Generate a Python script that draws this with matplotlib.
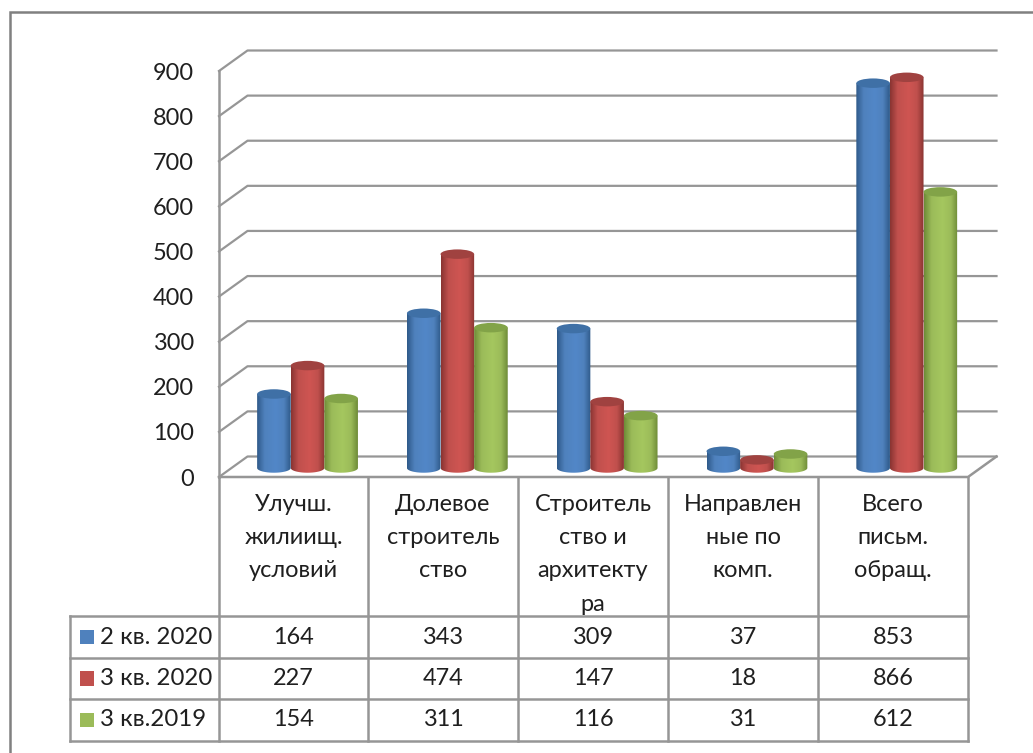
#!/usr/bin/env python3
import numpy as np
import matplotlib
matplotlib.use('Agg')
import matplotlib.pyplot as plt
from matplotlib.colors import LinearSegmentedColormap
from matplotlib.patches import Ellipse, Polygon

plt.rcParams['font.family'] = ['Lato', 'Open Sans', 'DejaVu Sans']

graphWidth = 1033
graphHeight = 753

categories = ['Улучш.\nжилиищ.\nусловий',
              'Долевое\nстроитель\nство',
              'Строитель\nство и\nархитекту\nра',
              'Направлен\nные по\nкомп.',
              'Всего\nписьм.\nобращ.']
series_names = ['2 кв. 2020', '3 кв. 2020', '3 кв.2019']
q2_2020 = [164, 343, 309, 37, 853]
q3_2020 = [227, 474, 147, 18, 866]
q3_2019 = [154, 311, 116, 31, 612]
series = [q2_2020, q3_2020, q3_2019]
y_ticks = [0, 100, 200, 300, 400, 500, 600, 700, 800, 900]

colors = ['#4f81bd', '#c0504d', '#9bbb59']
edge_colors = ['#2f5a8a', '#8a3432', '#6f8c38']
mid_colors = ['#5287c8', '#cf5552', '#a5c75f']
cap_colors = ['#3f70a6', '#a04240', '#82a348']
line_color = '#969696'
text_color = '#1f1f1f'
font_px = 23.5
font_pt = font_px * 72 / 100

# plot box in pixels
left, right, bottom, top = 219, 968, 477, 71
depth_x = 28.5 / ((right - left) / 5)
depth_y = 20.5 / ((bottom - top) / 900)

fig = plt.figure(figsize=(graphWidth / 100.0, graphHeight / 100.0), dpi=100)
bg = fig.add_axes([0, 0, 1, 1])
bg.set_xlim(0, graphWidth)
bg.set_ylim(graphHeight, 0)
bg.axis('off')

ax = fig.add_axes([left / graphWidth, 1 - bottom / graphHeight,
                   (right - left) / graphWidth, (bottom - top) / graphHeight])
ax.patch.set_visible(False)
for s in ax.spines.values():
    s.set_visible(False)

# walls and gridlines
for v in y_ticks:
    ax.plot([0, depth_x, 5 + depth_x], [v, v + depth_y, v + depth_y],
            color=line_color, lw=1.6, clip_on=False, zorder=1)
ax.plot([0, 0], [0, 900], color=line_color, lw=1.8, clip_on=False, zorder=1)
ax.plot([0, 5, 5 + depth_x], [0, 0, depth_y], color=line_color, lw=1.8, clip_on=False, zorder=1)

# cylinders
bar_w = 33.6 / ((right - left) / 5)
base = 20
cap_h = 21
t = np.linspace(0, np.pi, 40)
for i, vals in enumerate(series):
    cmap = LinearSegmentedColormap.from_list(
        'c%d' % i, [(0, edge_colors[i]), (0.22, colors[i]), (0.55, mid_colors[i]),
                    (0.8, colors[i]), (1, edge_colors[i])])
    for j, v in enumerate(vals):
        xc = j + 0.591 + (i - 1) * bar_w
        x_half = bar_w / 2
        top_v = base + v
        bx = xc + x_half * np.cos(t)
        by = base - cap_h / 2 * np.sin(t)
        outline = np.vstack([np.column_stack([bx, by]),
                             [[xc - x_half, top_v], [xc + x_half, top_v]]])
        im = ax.imshow(np.linspace(0, 1, 64).reshape(1, -1), cmap=cmap, aspect='auto',
                       extent=[xc - x_half, xc + x_half, base - cap_h / 2, top_v],
                       zorder=3 + i, clip_on=True)
        body = Polygon(outline, closed=True, fc='none', ec='none', transform=ax.transData)
        ax.add_patch(body)
        im.set_clip_path(body)
        ax.add_patch(Ellipse((xc, top_v), bar_w, cap_h, fc=cap_colors[i], ec='none',
                             zorder=3 + i, clip_on=False))

ax.set_xlim(0, 5)
ax.set_ylim(0, 900)
ax.set_xticks([])
ax.set_yticks(y_ticks)
ax.tick_params(axis='y', length=0, pad=18, labelsize=font_pt, labelcolor=text_color)

# data table under the plot
table_x = [70, 219, 368, 518, 668, 818, 968]
table_y = [616, 658, 699, 741]
for x in table_x[1:]:
    bg.plot([x, x], [477, table_y[-1]], color=line_color, lw=1.8, zorder=1)
bg.plot([70, 70], [table_y[0], table_y[-1]], color=line_color, lw=1.8, zorder=1)
for y in table_y:
    bg.plot([70, 968], [y, y], color=line_color, lw=1.8, zorder=1)

for j, c in enumerate(categories):
    cx = (table_x[j + 1] + table_x[j + 2]) / 2
    bg.text(cx, 494, c, ha='center', va='top', fontsize=font_pt, color=text_color, linespacing=1.72)

for i, vals in enumerate(series):
    cy = (table_y[i] + table_y[i + 1]) / 2
    bg.add_patch(plt.Rectangle((80, cy - 7.5), 14, 14.5, fc=colors[i], ec='none'))
    bg.text(100, cy, series_names[i], ha='left', va='center', fontsize=font_pt + 0.4, color=text_color)
    for j, v in enumerate(vals):
        cx = (table_x[j + 1] + table_x[j + 2]) / 2
        bg.text(cx, cy, str(v), ha='center', va='center', fontsize=font_pt, color=text_color)

# outer chart border, cut by the picture edge
bg.plot([9.5, 9.5, graphWidth], [graphHeight, 12, 12], color='#808080', lw=1.8, solid_joinstyle='miter')

fig.savefig('out.png', dpi=100)
plt.close('all')
